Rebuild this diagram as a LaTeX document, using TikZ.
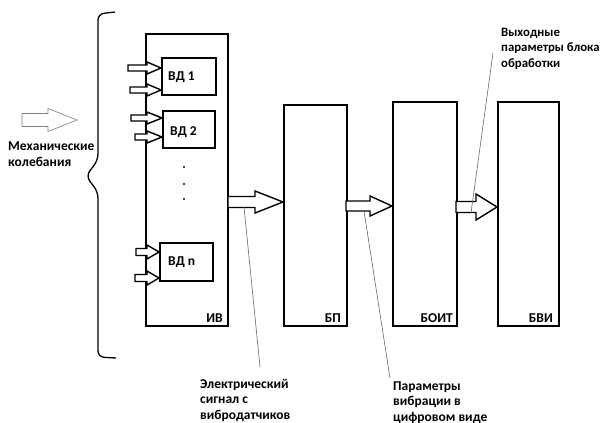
\documentclass[tikz,border=0pt]{standalone}
\usepackage{fontspec}
\setmainfont{Carlito}
\begin{document}
\begin{tikzpicture}[x=1pt,y=-1pt,
  box/.style={draw, line width=1.6pt, inner sep=0pt, anchor=north west},
  lbl/.style={font=\fontsize{13.5}{15.5}\selectfont\bfseries, inner sep=0pt},
  txt/.style={font=\fontsize{13.5}{15.5}\selectfont\bfseries, inner sep=0pt, align=left, anchor=base west},
  barr/.style={draw, line width=1.4pt, fill=white, line join=miter},
  garr/.style={draw=gray, line width=0.6pt, fill=white},
  lead/.style={draw=gray!80!black, line width=0.6pt}]
\useasboundingbox (0,0) rectangle (603,423);
\newcommand\blkarrow[7][barr]{\draw[#1] (#2,#5-#6) -- (#3,#5-#6) -- (#3,#5-#7) -- (#4,#5) -- (#3,#5+#7) -- (#3,#5+#6) -- (#2,#5+#6) -- cycle;}
% blocks
\node[box, minimum width=82pt, minimum height=292pt] (iv) at (145,33) {};
\node[box, minimum width=54pt, minimum height=37pt] (vd1) at (161,57) {};
\node[box, minimum width=52pt, minimum height=37pt] (vd2) at (162,110) {};
\node[box, minimum width=53pt, minimum height=38pt] (vdn) at (159,242) {};
\node[box, minimum width=63pt, minimum height=221pt] (bp) at (283,104) {};
\node[box, minimum width=64pt, minimum height=224pt] (boit) at (392,101) {};
\node[box, minimum width=61pt, minimum height=224pt] (bvi) at (497,101) {};
% labels
\node[lbl, anchor=base west] at (168,80) {ВД 1};
\node[lbl, anchor=base west] at (170,135) {ВД 2};
\node[lbl, anchor=base west] at (168,265) {ВД n};
\node[lbl, anchor=base east] at (223,322) {ИВ};
\node[lbl, anchor=base east] at (341,322) {БП};
\node[lbl, anchor=base east] at (453,322) {БОИТ};
\node[lbl, anchor=base east] at (553,322) {БВИ};
% dots
\fill (184,167) circle (1.1pt);
\fill (184,184) circle (1.1pt);
\fill (184,199) circle (1.1pt);
% small input arrows
\blkarrow{128}{147}{161}{68}{3}{6}
\blkarrow{130}{147}{161}{90}{3}{6}
\blkarrow{131}{147}{162}{118}{3}{6}
\blkarrow{135}{147}{162}{137}{3}{6}
\blkarrow{136}{147}{159}{252}{3.5}{7}
\blkarrow{135}{147}{159}{278}{3.5}{7}
% big arrows
\blkarrow{228}{255}{283}{202}{5.5}{11}
\blkarrow{346}{370}{392}{206}{5}{10}
\blkarrow{456}{476}{497}{207}{5.5}{13}
% mechanical input arrow
\blkarrow[garr]{22}{48}{77}{120}{6.5}{11.5}
% brace
\draw[line width=1.3pt, rounded corners=6pt] (115,12) -- (98,14) -- (98,160) -- (86,176) -- (98,192) -- (98,357) -- (116,358);
% leader lines
\coordinate (l1a) at (244,207); \coordinate (l1b) at (260,367);
\coordinate (l2a) at (364,211); \coordinate (l2b) at (390,378);
\coordinate (l3a) at (471,213); \coordinate (l3b) at (493,53);
\draw[lead] (l1a) -- (l1b);
\draw[lead] (l2a) -- (l2b);
\draw[lead] (l3a) -- (l3b);
% texts (base = baseline of last line)
\node[txt] (t1) at (200,419) {Электрический\\сигнал с\\вибродатчиков};
\node[txt] (t2) at (393,421) {Параметры\\вибрации в\\цифровом виде};
\node[txt, font=\fontsize{12.8}{15.5}\selectfont\bfseries] (t3) at (501,67) {Выходные\\параметры блока\\обработки};
\node[txt] (t4) at (8,166) {Механические\\колебания};
\end{tikzpicture}
\end{document}
